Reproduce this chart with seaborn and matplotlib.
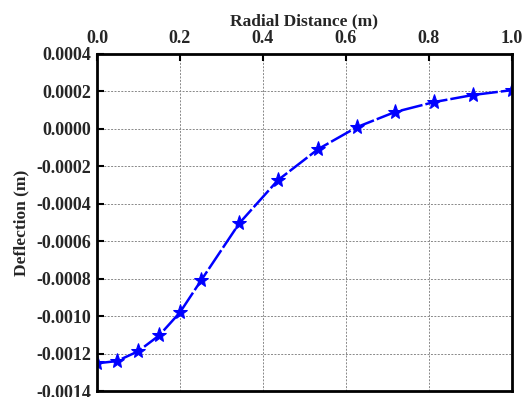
import matplotlib
matplotlib.use("Agg")
import matplotlib.pyplot as plt
import seaborn as sns
import pandas as pd
from matplotlib.ticker import FormatStrFormatter

radial_distance = [0.0, 0.048, 0.099, 0.150, 0.200, 0.251, 0.343, 0.436, 0.533, 0.627, 0.718, 0.812, 0.906, 1.0]
deflection = [-0.001252, -0.00124, -0.001188, -0.001103, -0.00098, -0.000809, -0.000504,
              -0.000274, -0.000108, 0.00001, 0.00009, 0.000143, 0.000181, 0.000207]

x_ticks = [0.0, 0.2, 0.4, 0.6, 0.8, 1.0]
y_ticks = [-0.0014, -0.0012, -0.0010, -0.0008, -0.0006, -0.0004, -0.0002, 0.0, 0.0002, 0.0004]

df = pd.DataFrame({"r": radial_distance, "d": deflection})

sns.set_theme(style="white")
plt.rcParams['font.family'] = ['Liberation Serif', 'DejaVu Serif']
plt.rcParams['font.weight'] = 'bold'

fig = plt.figure(figsize=(5.24, 3.97), dpi=100)
ax = fig.add_axes([0.185, 0.015, 0.792, 0.849])

sns.lineplot(data=df, x="r", y="d", ax=ax, color="#0000FF", linewidth=1.8,
             marker="*", markersize=11, markeredgecolor="#0000FF",
             dashes=False, zorder=3)
ax.lines[0].set_linestyle((0, (9, 1.2)))

ax.set_xlim(0, 1.0)
ax.set_ylim(-0.0014, 0.0004)
ax.set_xticks(x_ticks)
ax.set_yticks(y_ticks)
ax.yaxis.set_major_formatter(FormatStrFormatter('%.4f'))
ax.xaxis.set_major_formatter(FormatStrFormatter('%.1f'))
ax.xaxis.tick_top()
ax.xaxis.set_label_position('top')
ax.tick_params(axis='both', direction='in', length=5, width=1.5, labelsize=13, pad=4, color='black')
ax.tick_params(axis='x', top=True, bottom=False, pad=5)
ax.tick_params(axis='y', left=True, right=False)
for lab in ax.get_xticklabels() + ax.get_yticklabels():
    lab.set_fontweight('bold')

ax.set_xlabel("Radial Distance (m)", fontsize=12.5, fontweight='bold', labelpad=3)
ax.set_ylabel("Deflection (m)", fontsize=12.5, fontweight='bold', labelpad=5)

ax.grid(True, linestyle=(0, (2, 1.5)), color='#888888', linewidth=0.7)
for s in ax.spines.values():
    s.set_color('black')
    s.set_linewidth(2)
    s.set_zorder(5)

fig.savefig("out.png", dpi=100, facecolor='white')
